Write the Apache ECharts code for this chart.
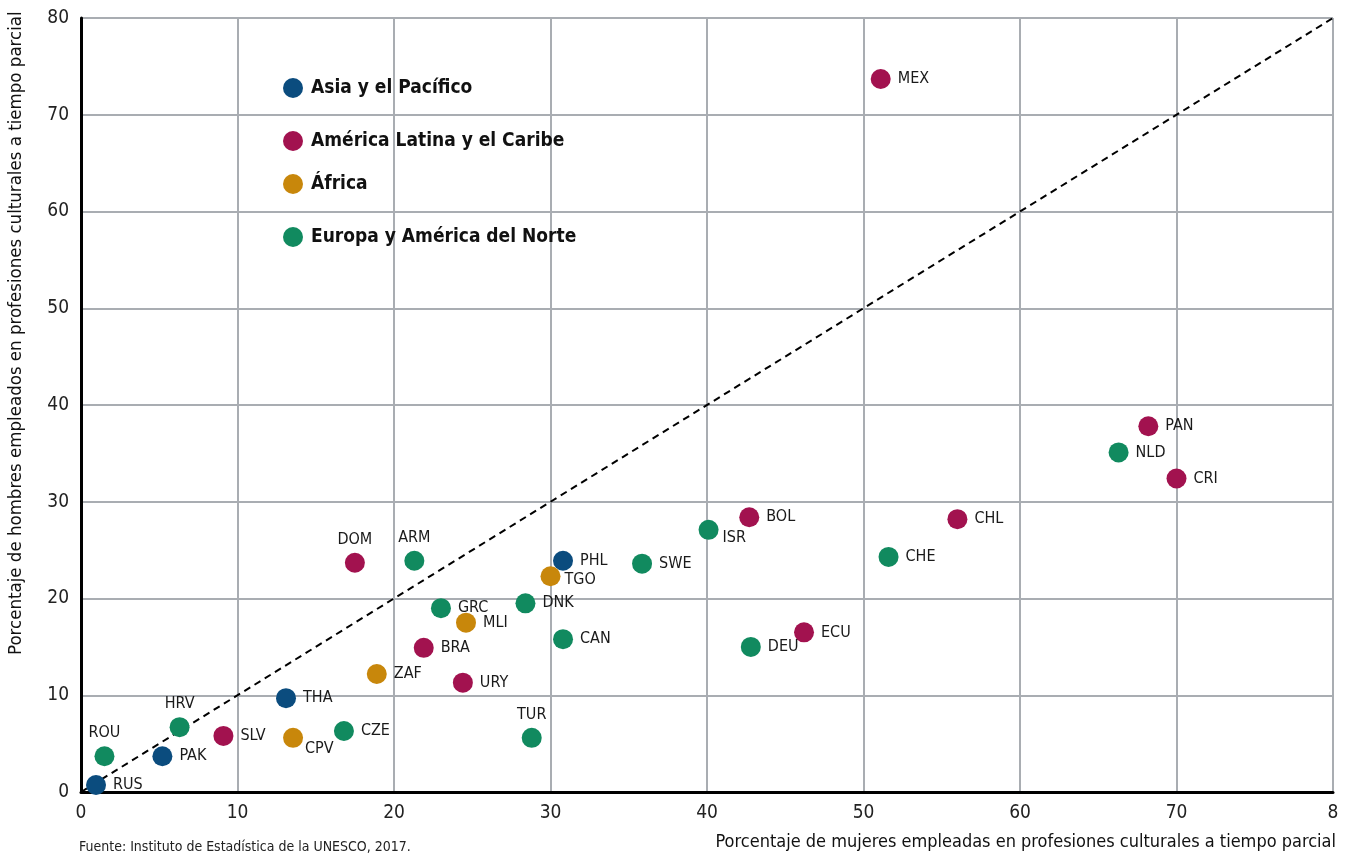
<!DOCTYPE html>
<html><head><meta charset="utf-8">
<script src="https://cdn.jsdelivr.net/npm/echarts@6/dist/echarts.min.js"></script>
<style>html,body{margin:0;padding:0;background:#fff}#c{width:1345px;height:856px}</style>
</head><body><div id="c"></div>
<script>
const regions = ['Asia y el Pacífico','América Latina y el Caribe','África','Europa y América del Norte'];
const asiaPts = [['RUS',0.96,0.72],['PAK',5.2,3.7],['THA',13.1,9.7],['PHL',30.8,23.9]];
const latamPts = [['SLV',9.1,5.8],['BRA',21.9,14.9],['DOM',17.5,23.7],['URY',24.4,11.3],['BOL',42.7,28.4],['ECU',46.2,16.5],['CHL',56.0,28.2],['MEX',51.1,73.7],['PAN',68.2,37.8],['CRI',70.0,32.4]];
const africaPts = [['CPV',13.55,5.6],['ZAF',18.9,12.2],['MLI',24.6,17.5],['TGO',30.0,22.3]];
const europePts = [['ROU',1.5,3.7],['HRV',6.3,6.7],['CZE',16.8,6.3],['ARM',21.3,23.9],['GRC',23.0,19.0],['DNK',28.4,19.5],['TUR',28.8,5.6],['CAN',30.8,15.8],['SWE',35.85,23.6],['ISR',40.1,27.1],['DEU',42.8,15.0],['CHE',51.6,24.3],['NLD',66.3,35.1]];
const xTicks = ['0','10','20','30','40','50','60','70','8'];
const yTicks = ['0','10','20','30','40','50','60','70','80'];
const colors = ['#0b4c7e','#a2124f','#c8870b','#118a5f'];
const FONT = "'Liberation Sans Narrow','DejaVu Sans Condensed',sans-serif";
const topLabel = {DOM:1,ARM:1,HRV:1,ROU:1,TUR:1};
const offsetLabel = {ISR:[24,10],TGO:[24,6],CPV:[22,13]};

function mk(pts){
  return pts.map(p=>{
    const d={value:[p[1],p[2]],name:p[0]};
    if(topLabel[p[0]]) d.label={position:'top',distance:5};
    else if(offsetLabel[p[0]]) d.label={position:offsetLabel[p[0]],align:'left',verticalAlign:'top'};
    return d;
  });
}
const groups=[asiaPts,latamPts,africaPts,europePts];
const series = groups.map((g,i)=>({
  name:regions[i],type:'scatter',symbolSize:20,itemStyle:{color:colors[i],opacity:1},
  data:mk(g),z:3,
  label:{show:true,position:'right',distance:7,formatter:p=>p.name,color:'#1a1a1a',fontSize:16,fontFamily:FONT}
}));
series.push({type:'line',data:[[0,0],[80,80]],symbol:'none',silent:true,z:2,
  lineStyle:{color:'#000',width:2,type:[7,5]}});
const legendTops=[78,131,174,227];
const legends = regions.map((r,i)=>({data:[r],left:283,top:legendTops[i],padding:0,icon:'circle',itemWidth:20,itemHeight:20,itemGap:8,
  selectedMode:false,textStyle:{fontSize:19,fontWeight:'bold',fontFamily:FONT,color:'#111',padding:[0,0,0,3]}}));
const chart=echarts.init(document.getElementById('c'));
chart.setOption({
  animation:false,
  color:colors,
  grid:{left:81,right:12,top:18,bottom:64},
  legend:legends,
  xAxis:{type:'value',min:0,max:80,interval:10,
    axisLine:{show:true,lineStyle:{color:'#000',width:3}},axisTick:{show:false},
    splitLine:{show:true,lineStyle:{color:'#a9adb2',width:2}},
    axisLabel:{fontSize:19,color:'#222',fontFamily:FONT,margin:12,formatter:(v)=>xTicks[Math.round(v/10)]}},
  yAxis:{type:'value',min:0,max:80,interval:10,
    axisLine:{show:true,lineStyle:{color:'#000',width:3}},axisTick:{show:false},
    splitLine:{show:true,lineStyle:{color:'#a9adb2',width:2}},
    axisLabel:{fontSize:19,color:'#222',fontFamily:FONT,margin:12,formatter:(v)=>yTicks[Math.round(v/10)]}},
  graphic:[
    {type:'text',x:1336,y:833,style:{text:'Porcentaje de mujeres empleadas en profesiones culturales a tiempo parcial',fontSize:18,fontFamily:FONT,fill:'#111',textAlign:'right'}},
    {type:'text',left:79,top:840,style:{text:'Fuente: Instituto de Estadística de la UNESCO, 2017.',fontSize:14,fontFamily:FONT,fill:'#222'}},
    {type:'text',x:7,y:655,rotation:Math.PI/2,style:{text:'Porcentaje de hombres empleados en profesiones culturales a tiempo parcial',fontSize:18.5,fontFamily:FONT,fill:'#111'}}
  ],
  series:series
});
</script></body></html>
